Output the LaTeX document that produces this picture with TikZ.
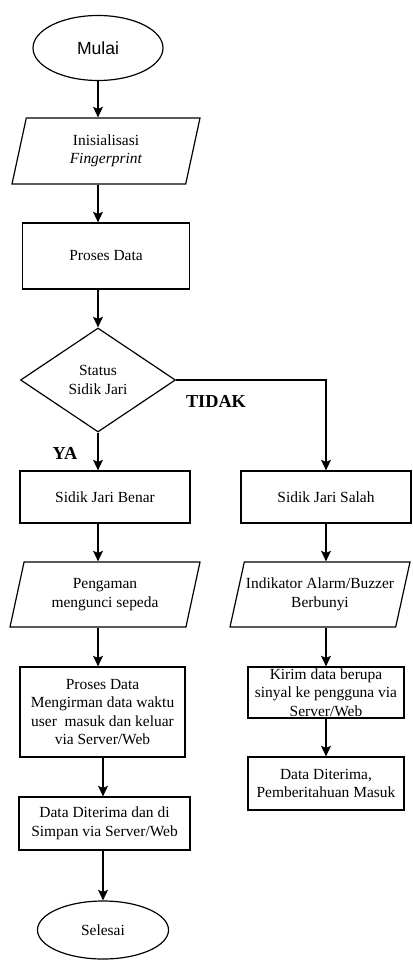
\documentclass[tikz,border=0pt]{standalone}
\usepackage{fontspec}
\setmainfont{Liberation Serif}
\setsansfont{Liberation Sans}
\usetikzlibrary{shapes.geometric,arrows.meta}

\begin{document}
\begin{tikzpicture}[
    font=\fontsize{11}{13.2}\selectfont,
    box/.style={draw,line width=0.85pt,align=center,inner sep=1pt},
    terminal/.style={box,ellipse},
    process/.style={box,rectangle},
    io/.style={box,trapezium,trapezium left angle=68,trapezium right angle=112,
      trapezium stretches body},
    decision/.style={box,diamond,inner sep=0pt},
    flow/.style={line width=1pt,-{Stealth[length=7.5pt,width=7pt,inset=1.5pt]}},
    answer/.style={font=\fontsize{13}{15}\selectfont\bfseries}
  ]
  \useasboundingbox (0,0) rectangle (10.3,-24);

  % left column
  \node [terminal,font={\sffamily\fontsize{12.5}{14}\selectfont},
    minimum width=3.25cm,minimum height=1.625cm] (mulai) at (2.45,-1.2) {Mulai};
  \node [io,minimum width=4.7cm,minimum height=1.65cm]
    (init) at (2.65,-3.775) {Inisialisasi\\\textit{Fingerprint}};
  \node [process,minimum width=4.175cm,minimum height=1.65cm]
    (proses) at (2.65,-6.4) {Proses Data};
  \node [decision,minimum width=3.875cm,minimum height=2.6cm]
    (status) at (2.45,-9.5) {Status\\Sidik Jari};
  \node [process,minimum width=4.25cm,minimum height=1.3cm]
    (benar) at (2.625,-12.425) {Sidik Jari Benar};
  \node [io,minimum width=4.75cm,minimum height=1.625cm]
    (pengaman) at (2.625,-14.8625) {Pengaman\\mengunci sepeda};
  \node [process,minimum width=4.125cm,minimum height=2.25cm]
    (mengirim) at (2.5625,-17.8)
    {Proses Data\\Mengirman data waktu\\user\ \ masuk dan keluar\\via Server/Web};
  \node [process,minimum width=4.275cm,minimum height=1.325cm]
    (simpan) at (2.6125,-20.5875) {Data Diterima dan di\\Simpan via Server/Web};
  \node [terminal,minimum width=3.275cm,minimum height=1.45cm]
    (selesai) at (2.575,-23.25) {Selesai};

  % right column
  \node [process,minimum width=4.25cm,minimum height=1.3cm]
    (salah) at (8.15,-12.425) {Sidik Jari Salah};
  \node [io,minimum width=4.5cm,minimum height=1.625cm,inner xsep=-0.28cm]
    (alarm) at (8.0,-14.8625) {Indikator Alarm/Buzzer\\Berbunyi};
  \node [process,minimum width=3.9cm,minimum height=1.275cm,inner sep=0pt]
    (kirim) at (8.15,-17.3125) {Kirim data berupa\\sinyal ke pengguna via\\Server/Web};
  \node [process,minimum width=3.9cm,minimum height=1.325cm]
    (diterima) at (8.15,-19.5875) {Data Diterima,\\Pemberitahuan Masuk};

  % answers
  \node [answer] (ya) at (1.625,-11.325) {YA};
  \node [answer] (tidak) at (5.4,-10.025) {TIDAK};

  % connectors
  \draw [flow] (mulai) -- (mulai |- init.north);
  \draw [flow] (init.south -| mulai) -- (proses.north -| mulai);
  \draw [flow] (proses.south -| status) -- (status);
  \draw [flow] (status) -- (status |- benar.north);
  \draw [flow] (status) -| (salah);
  \draw [flow] (benar.south -| status) -- (pengaman.north -| status);
  \draw [flow] (pengaman.south -| status) -- (mengirim.north -| status);
  \draw [flow] (mengirim.south -| selesai) -- (simpan.north -| selesai);
  \draw [flow] (simpan.south -| selesai) -- (selesai);
  \draw [flow] (salah) -- (salah |- alarm.north);
  \draw [flow] (alarm.south -| salah) -- (kirim);
  \draw [flow] (kirim) -- (diterima);
\end{tikzpicture}
\end{document}
